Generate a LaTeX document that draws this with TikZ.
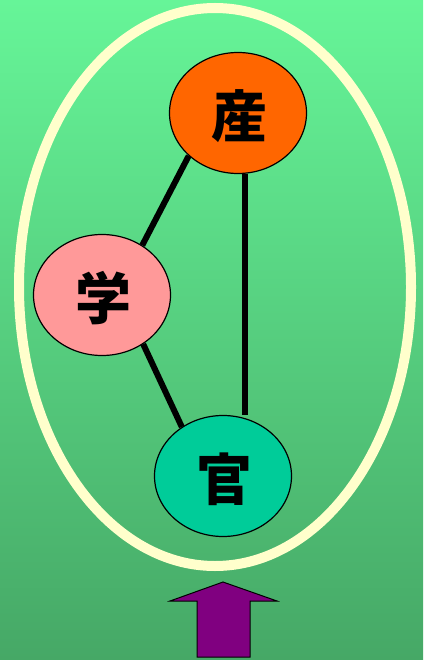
\documentclass[tikz,border=0pt]{standalone}
\usepackage{fontspec}
\newfontfamily\cjk{Noto Sans CJK JP}
\usetikzlibrary{shapes.geometric,calc}
\definecolor{bgtop}{RGB}{102,245,152}
\definecolor{bgbot}{RGB}{70,168,102}
\definecolor{ring}{RGB}{255,255,204}
\definecolor{sanc}{RGB}{255,102,0}
\definecolor{gakuc}{RGB}{255,153,153}
\definecolor{kanc}{RGB}{0,204,153}
\definecolor{arrowc}{RGB}{128,0,128}
\tikzset{
  blob/.style={ellipse, draw=black, line width=1.2pt, minimum width=137pt, minimum height=121pt, inner sep=0pt},
  glyph/.style={font=\cjk\bfseries\fontsize{56}{56}\selectfont, inner sep=0pt},
  link/.style={line width=6pt, black}
}
\begin{document}
\begin{tikzpicture}[x=1pt,y=-1pt]
\useasboundingbox (0,0) rectangle (423,660);
\shade[top color=bgtop, bottom color=bgbot] (0,0) rectangle (423,660);
\node[draw=ring, line width=10pt, ellipse, minimum width=392pt, minimum height=558pt, inner sep=0pt] (ring) at (215,287) {};
\node[blob, fill=sanc] (san) at (238,113) {};
\node[blob, fill=gakuc] (gaku) at (102,295) {};
\node[blob, fill=kanc] (kan) at (223,476) {};
\node[glyph] (santxt) at (239,116) {産};
\node[glyph] (gakutxt) at (103,298) {学};
\node[glyph] (kantxt) at (224,479) {官};
\draw[link] (san.221) -- (gaku.51);
\draw[link] (gaku.310) -- (kan.130);
\draw[link] (san.277.5) -- (san.277.5 |- kan.north);
\draw[fill=arrowc, draw=black, line width=1pt, line join=miter]
  (223,582) -- (277,601) -- (250,601) -- (250,657) -- (197,657) -- (197,601) -- (170,601) -- cycle;
\end{tikzpicture}
\end{document}
